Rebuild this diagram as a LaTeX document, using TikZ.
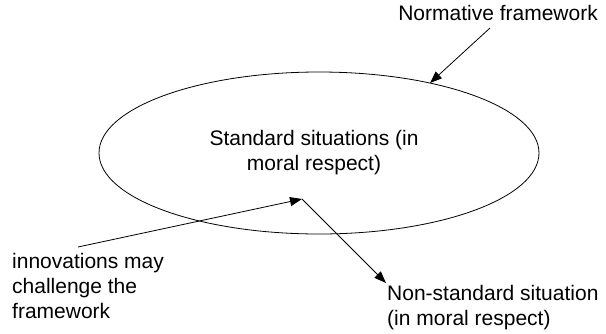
\documentclass[tikz,border=0pt]{standalone}
\usepackage{fontspec}
\setmainfont{Liberation Sans}
\usetikzlibrary{arrows.meta}
\begin{document}
\begin{tikzpicture}[x=1pt,y=-1pt,
  lbl/.style={inner sep=0pt, font=\fontsize{21}{25}\selectfont},
  conn/.style={line width=0.8pt, -{Triangle[length=12pt,width=9pt]}}]
\useasboundingbox (0,0) rectangle (606,333);
% the framework of standard situations
\draw[line width=0.8pt] (319,153) ellipse [x radius=220, y radius=81];
\node[lbl, align=center] (std) at (314,153) {Standard situations (in\\moral respect)};
% labels
\node[lbl, anchor=north east] (norm) at (598,5) {Normative framework};
\node[lbl, anchor=north west, align=left] (innov) at (12,253) {innovations may\\challenge the\\framework};
\node[lbl, anchor=north west, align=left] (nonstd) at (387,285) {Non-standard situation\\(in moral respect)};
% connector end points
\coordinate (normstart) at (490,28);
\coordinate (normtip) at (430,83);
\coordinate (innovstart) at (78,247);
\coordinate (centre) at (302,199);
\coordinate (nonstdtip) at (386,283);
\draw[conn] (normstart) -- (normtip);
\draw[conn] (innovstart) -- (centre);
\draw[conn] (centre) -- (nonstdtip);
\end{tikzpicture}
\end{document}
